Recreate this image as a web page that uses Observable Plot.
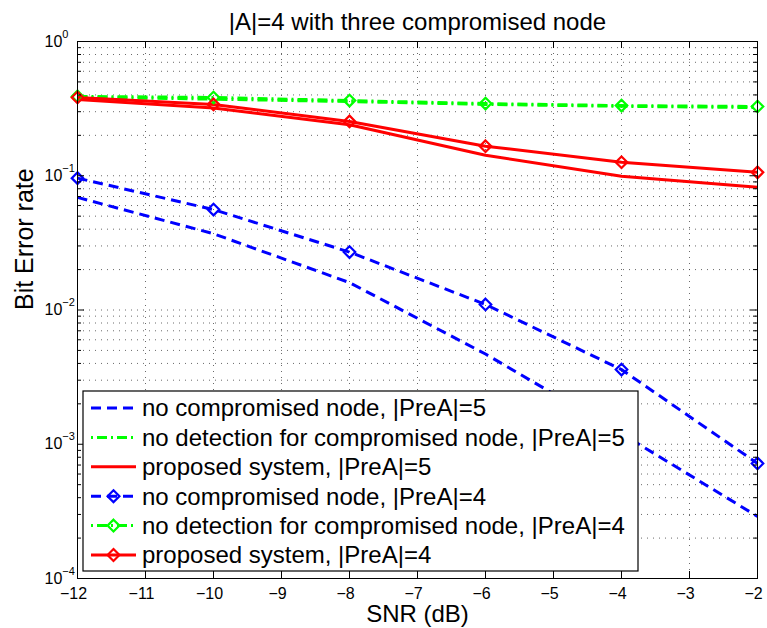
<!DOCTYPE html>
<html>
<head>
<meta charset="utf-8">
<script src="https://cdn.jsdelivr.net/npm/d3@7"></script>
<script src="https://cdn.jsdelivr.net/npm/@observablehq/plot@0.6"></script>
<style>
  html, body { margin: 0; padding: 0; background: white; }
  #chart { position: relative; width: 767px; height: 628px; }
</style>
</head>
<body>
<div id="chart"></div>
<script>
// ---- data ----
const snr = [-12, -10, -8, -6, -4, -2];
const noComp5   = [0.069, 0.037, 0.016, 0.0047, 0.0012, 0.00029];
const noDetect5 = [0.385, 0.372, 0.357, 0.340, 0.329, 0.322];
const proposed5 = [0.370, 0.320, 0.240, 0.142, 0.099, 0.082];
const noComp4   = [0.096, 0.056, 0.027, 0.011, 0.0036, 0.00072];
const noDetect4 = [0.390, 0.383, 0.363, 0.345, 0.333, 0.328];
const proposed4 = [0.383, 0.340, 0.254, 0.166, 0.126, 0.106];

const seriesNames = [
  "no compromised node, |PreA|=5",
  "no detection for compromised node, |PreA|=5",
  "proposed system, |PreA|=5",
  "no compromised node, |PreA|=4",
  "no detection for compromised node, |PreA|=4",
  "proposed system, |PreA|=4"
];
const seriesValues = [noComp5, noDetect5, proposed5, noComp4, noDetect4, proposed4];
const seriesColors = ["#0000ff", "#00ff00", "#ff0000", "#0000ff", "#00ff00", "#ff0000"];
const seriesDash   = ["10,6", "10,4,2,4", null, "10,6", "10,4,2,4", null];
const seriesMarker = [false, false, false, true, true, true];

const xTicks = [-12, -11, -10, -9, -8, -7, -6, -5, -4, -3, -2];
const yMajor = [1e-4, 1e-3, 1e-2, 1e-1, 1];
const yMinor = [];
for (let e = -4; e < 0; e++) for (let m = 2; m <= 9; m++) yMinor.push(m * Math.pow(10, e));

const titleText = "|A|=4 with three compromised node";
const xLabel = "SNR (dB)";
const yLabel = "Bit Error rate";

// ---- build table ----
const rows = [];
seriesNames.forEach((name, i) => {
  snr.forEach((x, j) => rows.push({series: name, idx: i, x, y: seriesValues[i][j]}));
});

const FONT = "'Liberation Sans', Arial, Helvetica, sans-serif";
const mL = 77, mR = 10, mT = 41, mB = 50;
const W = 767, H = 628;
const pw = W - mL - mR, ph = H - mT - mB;

const lineMarks = seriesNames.map((name, i) =>
  Plot.line(rows.filter(r => r.idx === i), {
    x: "x", y: "y", stroke: seriesColors[i], strokeWidth: 3,
    strokeDasharray: seriesDash[i] || undefined, strokeLinecap: "butt", strokeLinejoin: "round"
  })
);
const dotMarks = seriesNames.map((name, i) => seriesMarker[i] ?
  Plot.dot(rows.filter(r => r.idx === i), {
    x: "x", y: "y", symbol: "diamond2", r: 5.2, stroke: seriesColors[i], strokeWidth: 2.2, fill: "none"
  }) : null
).filter(Boolean);

const fmtX = d => (d < 0 ? "\u2212" : "") + Math.abs(d);

const chart = Plot.plot({
  width: W, height: H,
  marginLeft: mL, marginRight: mR, marginTop: mT, marginBottom: mB,
  style: {fontFamily: FONT, background: "white", color: "black", fontSize: "16px"},
  x: {domain: [-12, -2], axis: null},
  y: {type: "log", domain: [1e-4, 1], axis: null},
  marks: [
    Plot.ruleY(yMinor.concat(yMajor), {stroke: "#444", strokeWidth: 0.8, strokeDasharray: "1,5"}),
    Plot.ruleX(xTicks, {stroke: "#444", strokeWidth: 0.8, strokeDasharray: "1,5"}),
    ...lineMarks,
    ...dotMarks,
    // inward ticks (MATLAB style)
    Plot.ruleX(xTicks, {insetTop: ph - 7, stroke: "black"}),
    Plot.ruleX(xTicks, {insetBottom: ph - 7, stroke: "black"}),
    Plot.ruleY(yMajor, {insetRight: pw - 7, stroke: "black"}),
    Plot.ruleY(yMajor, {insetLeft: pw - 7, stroke: "black"}),
    Plot.ruleY(yMinor, {insetRight: pw - 4, stroke: "black"}),
    Plot.ruleY(yMinor, {insetLeft: pw - 4, stroke: "black"}),
    Plot.frame({stroke: "black", strokeWidth: 1}),
    // tick labels
    Plot.text(xTicks, {x: d => d, frameAnchor: "bottom", dy: 15, dx: -4, text: fmtX,
      fontSize: 16, lineAnchor: "middle", fill: "black"}),
    Plot.text(yMajor, {y: d => d, frameAnchor: "left", dx: -33, textAnchor: "start",
      text: d => "10^" + Math.round(Math.log10(d)), fontSize: 16, lineAnchor: "middle",
      fill: "black"}),
    // title and axis labels
    Plot.text([titleText], {frameAnchor: "top", dy: -19, lineAnchor: "middle", fontSize: 24, fill: "black"}),
    Plot.text([xLabel], {frameAnchor: "bottom", dy: 36, lineAnchor: "middle", fontSize: 24, fill: "black"}),
    Plot.text([yLabel], {frameAnchor: "left", dx: -53, rotate: -90, lineAnchor: "middle", fontSize: 25, fill: "black"})
  ]
});

document.getElementById("chart").appendChild(chart);

// superscript exponents on y tick labels
const svgNS = "http://www.w3.org/2000/svg";
Array.from(chart.querySelectorAll("text")).forEach(t => {
  const s = t.textContent;
  if (!/^10\^/.test(s)) return;
  const e = parseInt(s.split("^")[1], 10);
  t.textContent = "10";
  const ts = document.createElementNS(svgNS, "tspan");
  ts.setAttribute("dy", "-9");
  ts.setAttribute("font-size", "11");
  ts.textContent = (e < 0 ? "\u2212" : "") + Math.abs(e);
  t.appendChild(ts);
});

// legend (inside the axes, MATLAB style)
const svg = d3.select(chart);
const lg = svg.append("g").attr("font-family", FONT).attr("text-anchor", "start");
const lx = 83, ly = 391, lw = 555, lh = 180, rowH = 29.4, firstY = 408;
lg.append("rect").attr("x", lx).attr("y", ly).attr("width", lw).attr("height", lh)
  .attr("fill", "white").attr("stroke", "black").attr("stroke-width", 1.2);
seriesNames.forEach((name, i) => {
  const cy = firstY + i * rowH;
  lg.append("line").attr("x1", 91).attr("x2", 136).attr("y1", cy).attr("y2", cy)
    .attr("stroke", seriesColors[i]).attr("stroke-width", 3)
    .attr("stroke-dasharray", seriesDash[i] ? (seriesDash[i] === "10,6" ? "10,6" : "2,4,10,4") : null);
  if (seriesMarker[i]) {
    lg.append("path").attr("d", d3.symbol(d3.symbolDiamond2, 90)())
      .attr("transform", `translate(113.5,${cy})`)
      .attr("fill", "none").attr("stroke", seriesColors[i]).attr("stroke-width", 2.2);
  }
  lg.append("text").attr("x", 142).attr("y", cy).attr("dy", "0.35em")
    .attr("font-size", 24).attr("fill", "black").attr("text-anchor", "start").text(name);
});
</script>
</body>
</html>
